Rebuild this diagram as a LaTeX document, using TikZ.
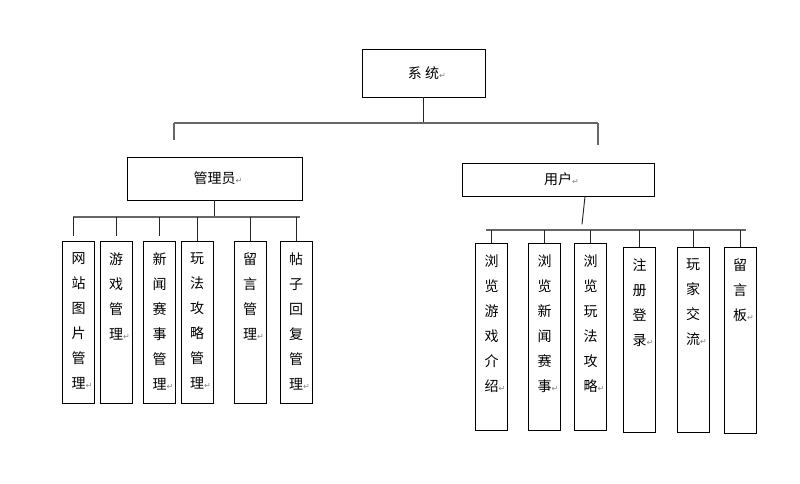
\documentclass[tikz,border=0pt]{standalone}
\usepackage{fontspec}
\setmainfont{Noto Sans CJK SC}
\newfontfamily\symfont{DejaVu Sans}
\usetikzlibrary{positioning}
\newcommand{\retmark}{\rlap{\symfont\color{gray}\fontsize{6}{6}\selectfont ↵}}

\tikzset{
  box/.style={draw, line width=0.6pt, inner sep=0pt, font=\fontsize{10.5}{12}\selectfont},
  leaf/.style={draw, line width=0.6pt, minimum width=24pt, inner sep=0pt, anchor=north},
  vtext/.style={align=center, inner sep=0pt, anchor=north, yshift=-8.5pt, font=\fontsize{10.5}{18.75}\selectfont},
  bus/.style={draw=black!60, line width=1.1pt},
  link/.style={draw=black!85, line width=0.7pt},
}

\begin{document}
\begin{tikzpicture}[x=0.75pt, y=-0.75pt]
\useasboundingbox (0,0) rectangle (800,483);

\node[box, minimum width=92.25pt, minimum height=36pt] (sys) at (423.5,73) {系 统\retmark};
\node[box, minimum width=131.25pt, minimum height=32.25pt] (adm) at (214.5,178.5) {管理员\retmark};
\node[box, minimum width=144pt, minimum height=24.75pt] (usr) at (558,179.5) {用户\retmark};

\coordinate (busTL) at (174,123);
\coordinate (busTR) at (598,123);
\coordinate (dropL) at (174,140);
\coordinate (dropR) at (598,145);
\coordinate (busAL) at (73,217);
\coordinate (busAR) at (300,217);
\coordinate (busUL) at (486,230);
\coordinate (busUR) at (746,230);

% admin leaves
\node[leaf, minimum height=121.5pt] (m1) at (78.5,241) {};
\node[leaf, minimum height=121.5pt] (m2) at (116,241) {};
\node[leaf, minimum height=121.5pt] (m3) at (159.5,241) {};
\node[leaf, minimum height=121.5pt] (m4) at (197,241) {};
\node[leaf, minimum height=121.5pt] (m5) at (250,241) {};
\node[leaf, minimum height=121.5pt] (m6) at (296,241) {};

\node[vtext] (m1t) at (m1.north) {网\\站\\图\\片\\管\\理\retmark};
\node[vtext] (m2t) at (m2.north) {游\\戏\\管\\理\retmark};
\node[vtext] (m3t) at (m3.north) {新\\闻\\赛\\事\\管\\理\retmark};
\node[vtext] (m4t) at (m4.north) {玩\\法\\攻\\略\\管\\理\retmark};
\node[vtext] (m5t) at (m5.north) {留\\言\\管\\理\retmark};
\node[vtext] (m6t) at (m6.north) {帖\\子\\回\\复\\管\\理\retmark};

% user leaves
\node[leaf, minimum height=140.25pt] (u1) at (491.5,243) {};
\node[leaf, minimum height=140.25pt] (u2) at (544.5,243) {};
\node[leaf, minimum height=140.25pt] (u3) at (590.5,243) {};
\node[leaf, minimum height=138.75pt] (u4) at (639.5,247) {};
\node[leaf, minimum height=138.75pt] (u5) at (693,247) {};
\node[leaf, minimum height=139.5pt] (u6) at (740,247) {};

\node[vtext] (u1t) at (u1.north) {浏\\览\\游\\戏\\介\\绍\retmark};
\node[vtext] (u2t) at (u2.north) {浏\\览\\新\\闻\\赛\\事\retmark};
\node[vtext] (u3t) at (u3.north) {浏\\览\\玩\\法\\攻\\略\retmark};
\node[vtext] (u4t) at (u4.north) {注\\册\\登\\录\retmark};
\node[vtext] (u5t) at (u5.north) {玩\\家\\交\\流\retmark};
\node[vtext] (u6t) at (u6.north) {留\\言\\板\retmark};

% top level
\draw[link] (sys) -- (sys |- busTL);
\draw[bus] (busTL) -- (busTR);
\draw[bus] (busTL) -- (dropL);
\draw[bus] (busTR) -- (dropR);

% admin branch
\draw[link] (adm) -- (adm |- busAL);
\draw[bus] (busAL) -- (busAR);
\draw[link, shorten >=4pt] (busAL) -- (busAL |- m1.north);
\draw[link, shorten >=4pt] (m2.north |- busAL) -- (m2.north);
\draw[link, shorten >=4pt] (m3.north |- busAL) -- (m3.north);
\draw[link] (m4.north |- busAL) -- (m4.north);
\draw[link] (m5.north |- busAL) -- (m5.north);
\draw[link] (m6.north |- busAL) -- (m6.north);

% user branch
\draw[link] (usr.south) ++(27,0) -- ++(-3,28);
\draw[bus] (busUL) -- (busUR);
\draw[link] (u1.north |- busUL) -- (u1.north);
\draw[link] (u2.north |- busUL) -- (u2.north);
\draw[link] (u3.north |- busUL) -- (u3.north);
\draw[link] (u4.north |- busUL) -- (u4.north);
\draw[link] (u5.north |- busUL) -- (u5.north);
\draw[link] (u6.north |- busUL) -- (u6.north);
\end{tikzpicture}
\end{document}
